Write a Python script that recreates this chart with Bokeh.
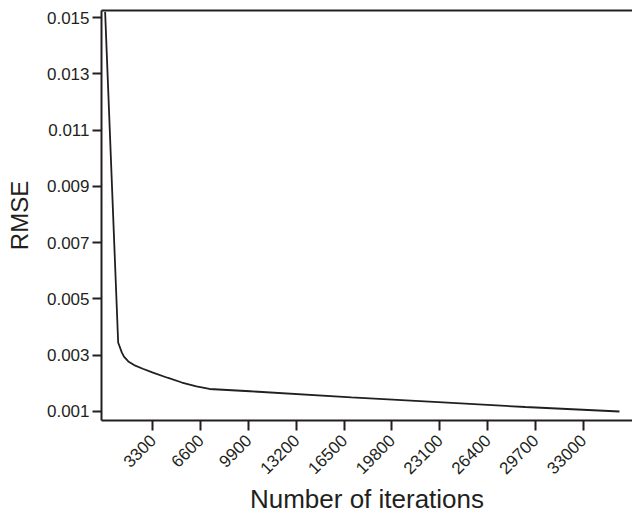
import math
from bokeh.plotting import figure
from bokeh.models import LinearAxis, FixedTicker, NumeralTickFormatter, Range1d
from bokeh.embed import file_html
from bokeh.resources import INLINE

# ---- data ----
iterations = [0, 900, 1150, 1300, 1600, 2000, 2600, 3300, 4300, 5300,
              6300, 7200, 10000, 17000, 23000, 29000, 35500]
rmse = [0.0152, 0.00345, 0.00310, 0.00295, 0.00278, 0.00265, 0.00252,
        0.00238, 0.00220, 0.00203, 0.00189, 0.00180, 0.00172, 0.00150,
        0.00133, 0.00116, 0.00100]
x_ticks = [3300, 6600, 9900, 13200, 16500, 19800, 23100, 26400, 29700, 33000]
y_ticks = [0.001, 0.003, 0.005, 0.007, 0.009, 0.011, 0.013, 0.015]
x_label = "Number of iterations"
y_label = "RMSE"

INK = "#231f20"
FONT = "Liberation Sans"

p = figure(width=632, height=517, output_backend="svg", toolbar_location=None,
           x_range=Range1d(-250, 36400), y_range=Range1d(0.00068, 0.01525),
           min_border_left=101, min_border_top=10, min_border_right=0,
           min_border_bottom=97, tools="")
p.outline_line_color = None
p.xgrid.visible = False
p.ygrid.visible = False
p.background_fill_color = "white"
p.border_fill_color = "white"

p.line(iterations, rmse, line_color=INK, line_width=1.8)

xa = p.xaxis[0]
xa.ticker = FixedTicker(ticks=x_ticks)
xa.formatter = NumeralTickFormatter(format="0")
xa.major_label_orientation = math.pi / 4
xa.major_tick_out = 10
xa.major_tick_in = 0
xa.minor_tick_out = 0
xa.minor_tick_in = 0
xa.major_label_standoff = 7
xa.axis_label = x_label
xa.axis_label_standoff = 2
xa.major_label_text_font_size = "17px"
xa.axis_label_text_font_size = "26px"

ya = p.yaxis[0]
ya.ticker = FixedTicker(ticks=y_ticks)
ya.formatter = NumeralTickFormatter(format="0.000")
ya.major_tick_out = 9
ya.major_tick_in = 0
ya.minor_tick_out = 0
ya.minor_tick_in = 0
ya.major_label_standoff = 3
ya.axis_label = y_label
ya.axis_label_standoff = 11
ya.major_label_text_font_size = "17px"
ya.axis_label_text_font_size = "24px"

for ax in (xa, ya):
    ax.axis_line_color = INK
    ax.axis_line_width = 2
    ax.major_tick_line_color = INK
    ax.major_tick_line_width = 2
    ax.major_label_text_font = FONT
    ax.major_label_text_color = INK
    ax.axis_label_text_font = FONT
    ax.axis_label_text_font_style = "normal"
    ax.axis_label_text_color = INK

top = LinearAxis(ticker=FixedTicker(ticks=[]), major_tick_out=0, major_tick_in=0,
                 minor_tick_out=0, minor_tick_in=0, major_label_standoff=0,
                 major_label_text_font_size="0px", axis_line_color=INK,
                 axis_line_width=2)
p.add_layout(top, "above")

open("out.html", "w").write(file_html(p, INLINE))
